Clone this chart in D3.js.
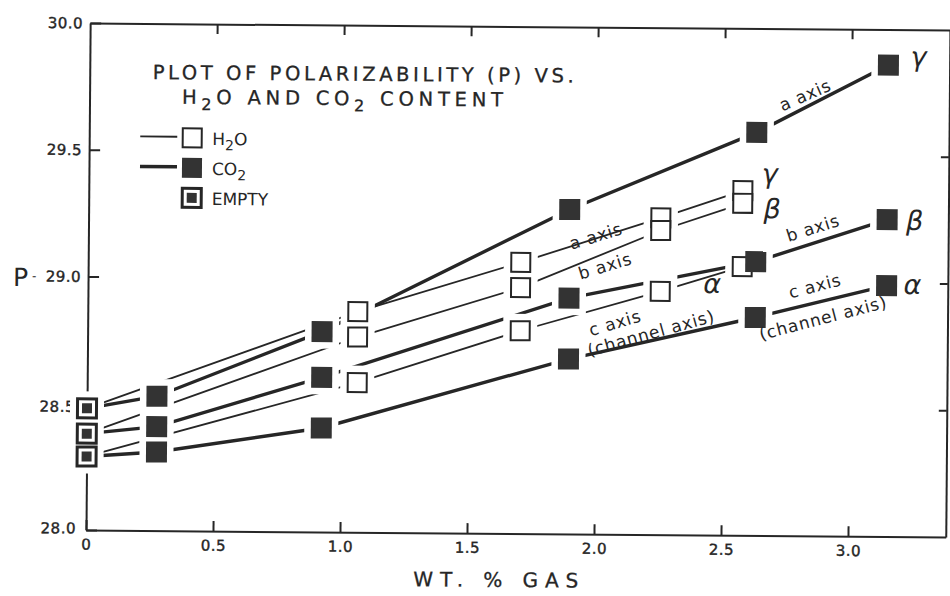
<!DOCTYPE html>
<html><head><meta charset="utf-8">
<script src="https://cdn.jsdelivr.net/npm/d3@7/dist/d3.min.js"></script>
<style>
body{margin:0;background:#fff}
svg{display:block}
text{font-family:"DejaVu Sans","Liberation Sans",Arial,sans-serif;fill:#262626}
</style>
</head><body>
<svg id="c" width="950" height="596"></svg>
<script>
// ---------- data ----------
const xTicks=[0,0.5,1.0,1.5,2.0,2.5,3.0];
const xTickLabels=["0","0.5","1.0","1.5","2.0","2.5","3.0"];
const yTicks=[28.0,28.5,29.0,29.5,30.0];
const yTickLabels=["28.0","28.5","29.0","29.5","30.0"];
// empty (no gas) values at 0 wt.%  — a axis (γ), b axis (β), c axis (α)
const emptyP=[28.48,28.38,28.29];
// H2O samples
const h2oX=[1.063,1.703,2.253,2.575];
const h2oA=[28.87,29.07,29.25,29.36];
const h2oB=[28.77,28.97,29.20,29.31];
const h2oC=[28.59,28.80,28.96,29.06];
// CO2 samples
const co2X=[0.275,0.923,1.894,2.628,3.144];
const co2A=[28.53,28.79,29.28,29.59,29.86];
const co2B=[28.41,28.61,28.93,29.08,29.25];
const co2C=[28.31,28.41,28.69,28.86,28.99];
// annotations (data coordinates)
const annoText=["a axis","b axis","a axis","b axis","c axis","(channel axis)","c axis","(channel axis)","α","γ","β","γ","β","α"];
const annoX=[1.998,2.035,2.817,2.852,2.076,2.218,2.862,2.895,2.457,2.681,2.691,3.262,3.252,3.246];
const annoY=[29.176,29.058,29.739,29.215,28.834,28.795,28.986,28.860,28.987,29.423,29.284,29.889,29.242,28.989];
const annoAngle=[-17.5,-17.5,-24,-18,-17,-16,-15,-15,0,0,0,0,0,0];

// ---------- drawing ----------
const ink="#262626", fillDark="#333";
const svg=d3.select("#c");
const g=svg.append("g").attr("transform","rotate(0.47,86,530)");
const xMax=3.385;
const x=d3.scaleLinear().domain([0,xMax]).range([86,86+xMax*254]);
const y=d3.scaleLinear().domain([28,30]).range([530,23]);

function styleAxis(sel){
  sel.attr("font-family",null).attr("font-size",15);
  sel.select(".domain").attr("stroke",ink).attr("stroke-width",2);
  sel.selectAll(".tick line").attr("stroke",ink).attr("stroke-width",2);
  sel.selectAll(".tick text").attr("fill",ink).attr("stroke",ink).attr("stroke-width",0.4).attr("letter-spacing",0.5);
}
const axisLayer=g.append("g");
const lineLayer=g.append("g");
const haloLayer=g.append("g");
const markLayer=g.append("g");
const textLayer=g.append("g");

const gb=axisLayer.append("g").attr("transform",`translate(0,${y(28)})`)
  .call(d3.axisBottom(x).tickValues(xTicks).tickFormat((d,i)=>xTickLabels[i]).tickSizeInner(-10).tickSizeOuter(0).tickPadding(9));
styleAxis(gb);
const gl=axisLayer.append("g").attr("transform",`translate(${x(0)},0)`)
  .call(d3.axisLeft(y).tickValues(yTicks).tickFormat((d,i)=>yTickLabels[i]).tickSizeInner(-11).tickSizeOuter(0).tickPadding(7));
styleAxis(gl);
gl.selectAll(".tick text").filter(d=>d===28.5).attr("x",-12).attr("dy","0.55em");
gl.selectAll(".tick text").filter(d=>d===28.0).attr("x",-10).attr("dy","0.2em");
const gt=axisLayer.append("g").attr("transform",`translate(0,${y(30)})`)
  .call(d3.axisTop(x).tickValues(xTicks.slice(1)).tickFormat(()=>"").tickSizeInner(-10).tickSizeOuter(0));
styleAxis(gt);
const gr=axisLayer.append("g").attr("transform",`translate(${x(xMax)},0)`)
  .call(d3.axisRight(y).tickValues([28.5,29.0,29.5]).tickFormat(()=>"").tickSizeInner(-8).tickSizeOuter(0));
styleAxis(gr);

// axis titles
textLayer.append("text").attr("x",x(0)-75).attr("y",y(29)+10).attr("font-size",25).text("P");
textLayer.append("text").attr("x",x(0)-56).attr("y",y(29)+4).attr("font-size",12).text("-");
textLayer.append("text").attr("x",x(1.615)).attr("y",y(28)+53.5).attr("text-anchor","middle")
  .attr("font-size",20).attr("stroke",ink).attr("stroke-width",0.3)
  .attr("textLength",165).attr("lengthAdjust","spacing").text("WT.  % GAS");

// lines
const line=d3.line().x(d=>x(d[0])).y(d=>y(d[1]));
const groups=[
  {name:"H2O",xs:h2oX,sets:[h2oA,h2oB,h2oC],w:1.8},
  {name:"CO2",xs:co2X,sets:[co2A,co2B,co2C],w:3.4}
];
groups.forEach(G=>{
  G.sets.forEach((vals,i)=>{
    const pts=[[0,emptyP[i]]].concat(G.xs.map((v,j)=>[v,vals[j]]));
    lineLayer.append("path").attr("d",line(pts)).attr("fill","none").attr("stroke",ink)
      .attr("stroke-width",G.w).attr("stroke-linecap","butt");
  });
});

// white halos round every marker (gaps in the lines and axis, as in the drawing)
const allPts=[];
emptyP.forEach(v=>allPts.push([0,v]));
groups.forEach(G=>G.sets.forEach(vals=>G.xs.forEach((v,j)=>allPts.push([v,vals[j]]))));
allPts.forEach(d=>{
  haloLayer.append("rect").attr("x",x(d[0])-17).attr("y",y(d[1])-17)
    .attr("width",34).attr("height",34).attr("fill","#ffffff").attr("stroke","none");
});

// markers
[h2oA,h2oB,h2oC].forEach(vals=>{
  h2oX.forEach((v,j)=>{
    markLayer.append("rect").attr("x",x(v)-9.5).attr("y",y(vals[j])-9.5).attr("width",19).attr("height",19)
      .attr("fill","#fff").attr("stroke",ink).attr("stroke-width",2);
  });
});
[co2A,co2B,co2C].forEach(vals=>{
  co2X.forEach((v,j)=>{
    markLayer.append("rect").attr("x",x(v)-10.5).attr("y",y(vals[j])-10.5).attr("width",21).attr("height",21)
      .attr("fill",fillDark);
  });
});
emptyP.forEach(v=>{
  markLayer.append("rect").attr("x",x(0)-9.5).attr("y",y(v)-9.5).attr("width",19).attr("height",19)
    .attr("fill","#fff").attr("stroke",ink).attr("stroke-width",3);
  markLayer.append("rect").attr("x",x(0)-5).attr("y",y(v)-5).attr("width",10).attr("height",10).attr("fill",fillDark);
});

// annotations
annoText.forEach((t,i)=>{
  const greek=t.length===1;
  textLayer.append("text").attr("transform",`translate(${x(annoX[i])},${y(annoY[i])}) rotate(${annoAngle[i]})`)
    .attr("text-anchor","middle").attr("dy",greek?"0.3em":"0.35em")
    .attr("font-size",greek?27:17).attr("font-style",greek?"italic":"normal")
    .attr("letter-spacing",greek?0:0.8).text(t);
});

// title
textLayer.append("text").attr("x",149).attr("y",78.5).attr("font-size",19.5)
  .attr("stroke",ink).attr("stroke-width",0.3)
  .attr("textLength",421).attr("lengthAdjust","spacing").text("PLOT OF POLARIZABILITY (P)  VS.");
const t2=textLayer.append("text").attr("x",178.5).attr("y",103).attr("font-size",19.5)
  .attr("stroke",ink).attr("stroke-width",0.3)
  .attr("textLength",321).attr("lengthAdjust","spacing");
t2.append("tspan").text("H");
t2.append("tspan").attr("dy",6).attr("font-size",16).text("2");
t2.append("tspan").attr("dy",-6).text("O AND CO");
t2.append("tspan").attr("dy",6).attr("font-size",16).text("2");
t2.append("tspan").attr("dy",-6).text(" CONTENT");

// legend
const legRows=[{y:137,label:["H","2","O"],kind:"h2o"},{y:167,label:["CO","2",""],kind:"co2"},{y:197,label:["EMPTY","",""],kind:"empty"}];
legRows.forEach(r=>{
  if(r.kind!=="empty") textLayer.append("line").attr("x1",137).attr("x2",174).attr("y1",r.y-1).attr("y2",r.y-1)
    .attr("stroke",ink).attr("stroke-width",r.kind==="co2"?3.4:1.8);
  if(r.kind==="h2o") textLayer.append("rect").attr("x",189-9.5).attr("y",r.y-9.5).attr("width",19).attr("height",19)
    .attr("fill","#fff").attr("stroke",ink).attr("stroke-width",2);
  if(r.kind==="co2") textLayer.append("rect").attr("x",189-10).attr("y",r.y-10).attr("width",20).attr("height",20).attr("fill",fillDark);
  if(r.kind==="empty"){
    textLayer.append("rect").attr("x",189-9.5).attr("y",r.y-9.5).attr("width",19).attr("height",19)
      .attr("fill","#fff").attr("stroke",ink).attr("stroke-width",3);
    textLayer.append("rect").attr("x",189-5).attr("y",r.y-5).attr("width",10).attr("height",10).attr("fill",fillDark);
  }
  const tx=textLayer.append("text").attr("x",209).attr("y",r.y+7).attr("font-size",17);
  tx.append("tspan").text(r.label[0]);
  if(r.label[1]){
    tx.append("tspan").attr("dy",5).attr("font-size",14).text(r.label[1]);
    tx.append("tspan").attr("dy",-5).text(r.label[2]);
  }
});
</script>
</body></html>
